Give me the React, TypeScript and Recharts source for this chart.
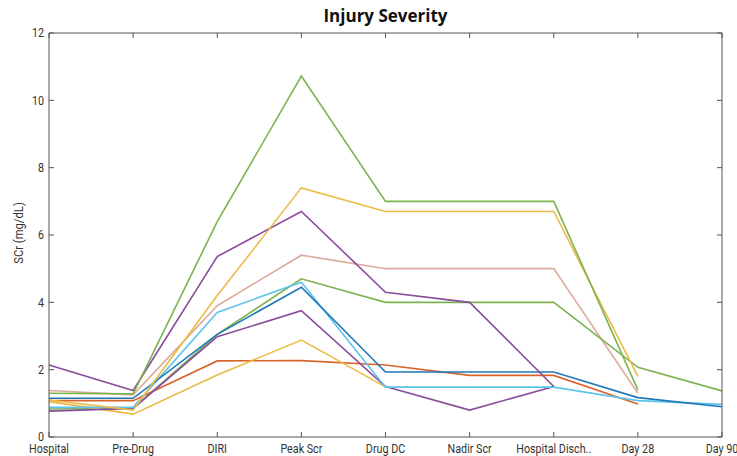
import React from 'react';
import { LineChart, Line, XAxis, YAxis } from 'recharts';

const categories = ['Hospital', 'Pre-Drug', 'DIRI', 'Peak Scr', 'Drug DC', 'Nadir Scr', 'Hospital Disch..', 'Day 28', 'Day 90'];

const blue = [1.15, 1.15, 3.05, 4.45, 1.93, 1.93, 1.93, 1.17, 0.9];
const orange = [1.08, 1.08, 2.26, 2.27, 2.14, 1.83, 1.83, 0.98, null];
const yellowHigh = [1.1, 0.8, 4.2, 7.4, 6.7, 6.7, 6.7, 1.8, null];
const purpleHigh = [2.14, 1.38, 5.36, 6.7, 4.3, 4.0, 1.5, null, null];
const greenHigh = [1.3, 1.28, 6.4, 10.72, 7.0, 7.0, 7.0, 1.4, null];
const lightBlue = [0.88, 0.88, 3.7, 4.6, 1.48, 1.48, 1.48, 1.08, 0.97];
const tan = [1.38, 1.25, 3.9, 5.4, 5.0, 5.0, 5.0, 1.3, null];
const greenLow = [0.83, 0.85, 3.05, 4.7, 4.0, 4.0, 4.0, 2.07, 1.37];
const purpleLow = [0.77, 0.85, 2.98, 3.75, 1.5, 0.8, 1.5, null, null];
const yellowLow = [1.05, 0.68, 1.84, 2.88, 1.49, null, null, null, null];

const yTicks = [0, 2, 4, 6, 8, 10, 12];

const series = [
  { key: 'tan', values: tan, color: '#dcab9b' },
  { key: 'greenLow', values: greenLow, color: '#7db34f' },
  { key: 'orange', values: orange, color: '#d9632c' },
  { key: 'yellowLow', values: yellowLow, color: '#ecbb45' },
  { key: 'purpleLow', values: purpleLow, color: '#8a4c9c' },
  { key: 'lightBlue', values: lightBlue, color: '#5ec3ea' },
  { key: 'blue', values: blue, color: '#1f78b8' },
  { key: 'purpleHigh', values: purpleHigh, color: '#8a4c9c' },
  { key: 'yellowHigh', values: yellowHigh, color: '#ecbb45' },
  { key: 'greenHigh', values: greenHigh, color: '#7db34f' },
];

const data = categories.map((name, i) => {
  const row: Record<string, string | number | null> = { name };
  series.forEach(s => {
    row[s.key] = s.values[i];
  });
  return row;
});

const font = 'Roboto, "Open Sans", sans-serif';
const axisColor = '#555';
const noLabel = () => <g />;

// narrow tick text, like the condensed face in the original
const NarrowTick = (props: any) => {
  const { x, y, payload, textAnchor, verticalAnchor } = props;
  const dy = verticalAnchor === 'start' ? '0.71em' : '0.355em';
  return (
    <text
      transform={`translate(${x},${y}) scale(0.86,1)`}
      textAnchor={textAnchor}
      dy={dy}
      fill="#333"
      fontSize={12.5}
      fontFamily={font}
    >
      {payload.value}
    </text>
  );
};

export default function App() {
  return (
    <div style={{ position: 'absolute', left: 0, top: 0, width: 737, height: 456, background: '#fff', fontFamily: font }}>
      <div
        style={{
          position: 'absolute',
          left: 49,
          width: 673,
          top: 4,
          textAlign: 'center',
          fontWeight: 'bold',
          fontSize: 17,
          color: '#111',
          fontFamily: '"Open Sans", sans-serif',
        }}
      >
        Injury Severity
      </div>
      <div
        style={{
          position: 'absolute',
          left: 18,
          top: 233,
          transform: 'translate(-50%, -50%) rotate(-90deg) scale(0.9, 1)',
          fontSize: 12.5,
          color: '#333',
          whiteSpace: 'nowrap',
        }}
      >
        SCr (mg/dL)
      </div>
      <LineChart width={737} height={456} data={data} margin={{ top: 32, right: 14, bottom: 0, left: 0 }}>
        <XAxis
          dataKey="name"
          xAxisId="bottom"
          height={19}
          interval={0}
          tickSize={-5}
          tickMargin={12}
          stroke={axisColor}
          tick={<NarrowTick />}
        />
        <XAxis
          dataKey="name"
          xAxisId="top"
          orientation="top"
          height={1}
          interval={0}
          tickSize={-5}
          stroke={axisColor}
          tick={noLabel}
        />
        <YAxis
          yAxisId="left"
          width={49}
          domain={[0, 12]}
          ticks={yTicks}
          tickSize={-5}
          tickMargin={10}
          stroke={axisColor}
          tick={<NarrowTick />}
        />
        <YAxis
          yAxisId="right"
          orientation="right"
          width={1}
          domain={[0, 12]}
          ticks={yTicks}
          tickSize={-5}
          stroke={axisColor}
          tick={noLabel}
        />
        <Line
          xAxisId="top"
          yAxisId="right"
          dataKey="blue"
          stroke="none"
          dot={false}
          activeDot={false}
          legendType="none"
          isAnimationActive={false}
        />
        {series.map(s => (
          <Line
            key={s.key}
            xAxisId="bottom"
            yAxisId="left"
            type="linear"
            dataKey={s.key}
            stroke={s.color}
            strokeWidth={1.6}
            dot={false}
            activeDot={false}
            isAnimationActive={false}
          />
        ))}
      </LineChart>
    </div>
  );
}
